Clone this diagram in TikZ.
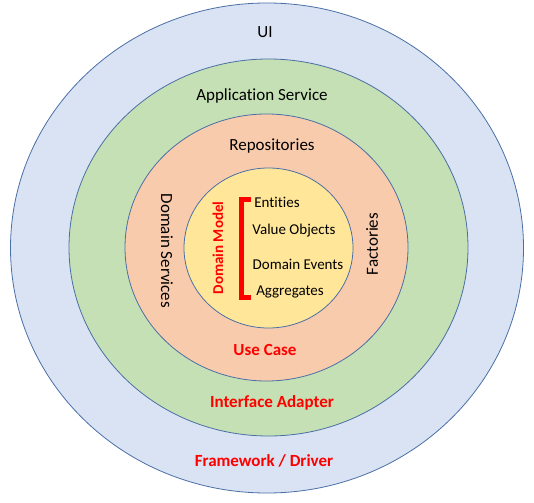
\documentclass[tikz,border=0pt]{standalone}
\usepackage{fontspec}
\setmainfont[Ligatures=NoCommon]{Carlito}
\definecolor{ringline}{HTML}{4A6FA5}
\definecolor{uiblue}{HTML}{DAE3F3}
\definecolor{appgreen}{HTML}{C5E0B4}
\definecolor{domorange}{HTML}{F8CBAD}
\definecolor{coreyellow}{HTML}{FFE699}
\definecolor{layerred}{HTML}{FF0000}
\begin{document}
\begin{tikzpicture}[x=1pt,y=-1pt,
  ring/.style={draw=ringline,line width=0.8pt},
  lbl/.style={font=\fontsize{17}{20}\selectfont,inner sep=0pt},
  inner/.style={font=\fontsize{15}{18}\selectfont,inner sep=0pt},
  layer/.style={font=\fontsize{17}{20}\selectfont\bfseries,text=layerred,inner sep=0pt}]
\useasboundingbox (0,0) rectangle (534,502);
% concentric layers
\coordinate (c) at (267,248);
\path[ring,fill=uiblue]     (c) ellipse [x radius=256.5,y radius=245];
\path[ring,fill=appgreen]   (268.5,247.5) ellipse [x radius=199.5,y radius=188.5];
\path[ring,fill=domorange]  (266.5,247.5) ellipse [x radius=141.5,y radius=133.5];
\path[ring,fill=coreyellow] (268.5,248) ellipse [x radius=84.5,y radius=80];
% layer names
\node[lbl] (ui) at (265,32) {UI};
\node[lbl] (app) at (262,96) {Application Service};
\node[lbl] (repo) at (272,146) {Repositories};
\node[lbl,rotate=-90] (dsvc) at (167,251) {Domain Services};
\node[lbl,rotate=90] (fact) at (372,244) {Factories};
\node[layer] (usecase) at (265,350) {Use Case};
\node[layer] (adapter) at (272,403) {Interface Adapter};
\node[layer] (driver) at (264,461) {Framework / Driver};
% domain model core
\node[layer,rotate=90,font=\fontsize{15}{18}\selectfont\bfseries] (model) at (218,248) {Domain Model};
\draw[layerred,line width=5pt,line join=miter] (251,200) -- (241,200) -- (241,297) -- (251,297);
\node[inner] (ent) at (277,202) {Entities};
\node[inner] (vo) at (294,231) {Value Objects};
\node[inner] (evt) at (298,264) {Domain Events};
\node[inner] (agg) at (290,292) {Aggregates};
\end{tikzpicture}
\end{document}
